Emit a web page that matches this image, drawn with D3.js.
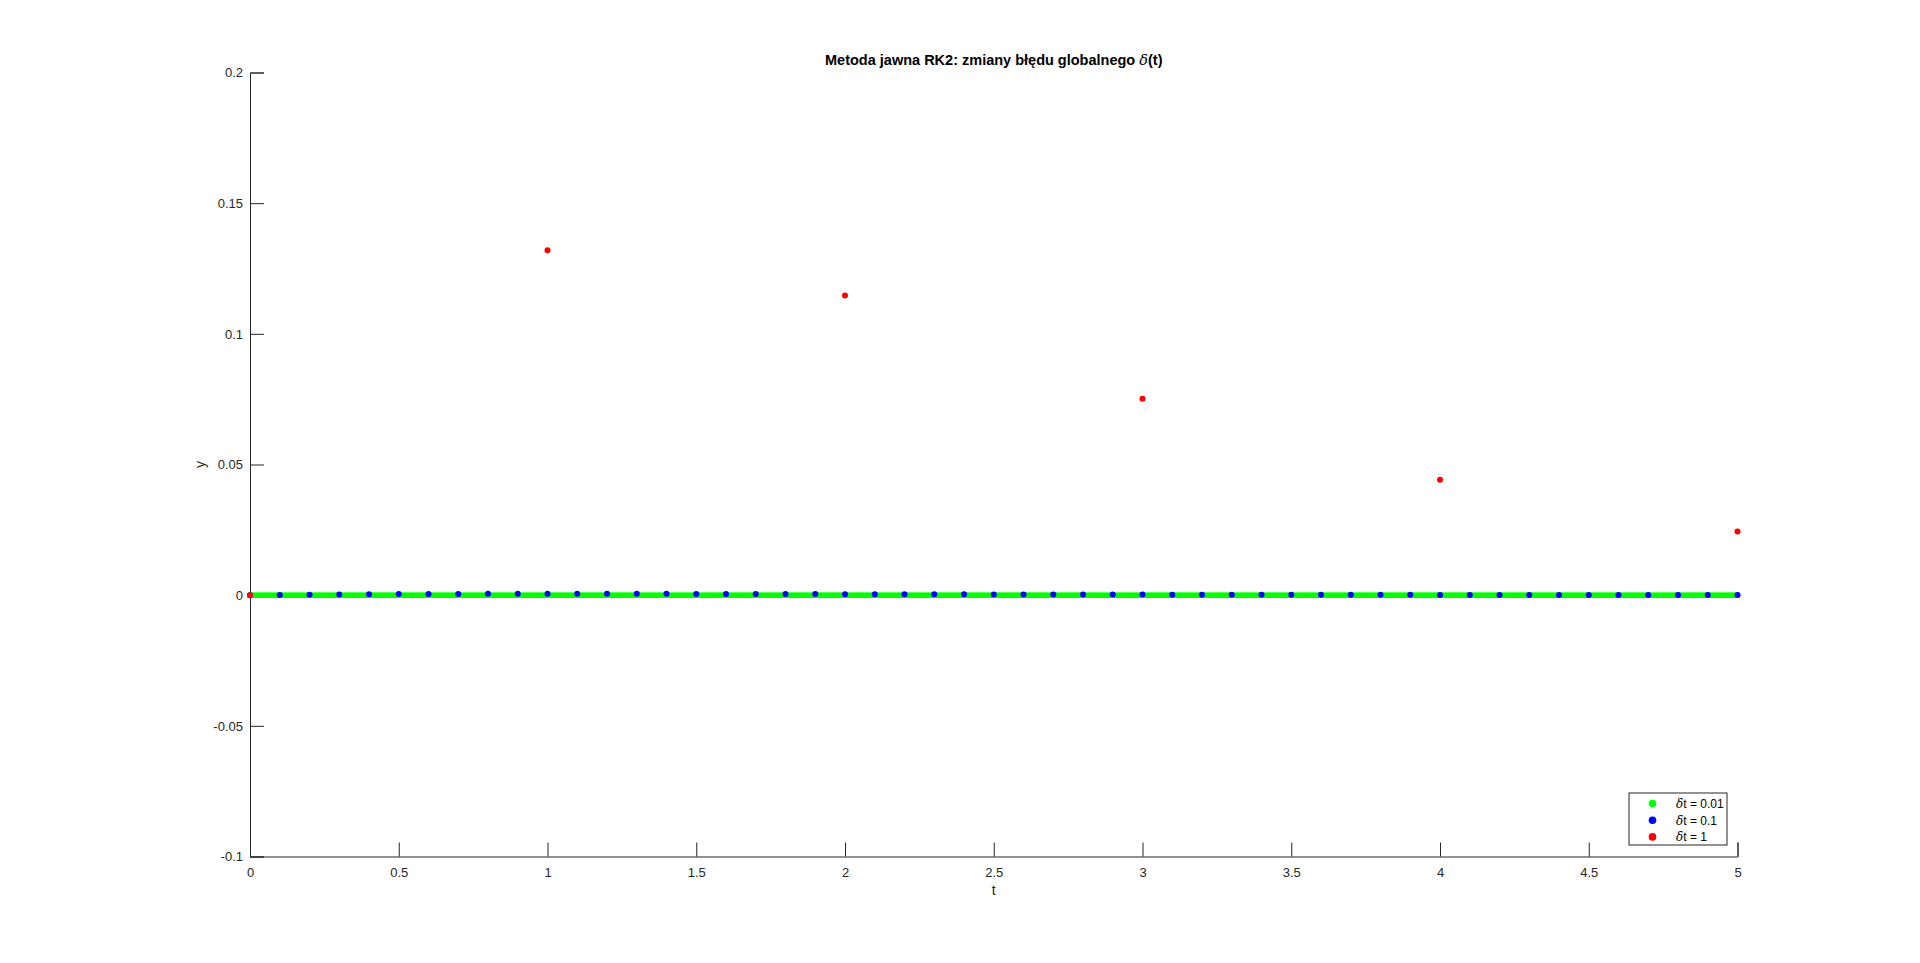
<!DOCTYPE html>
<html lang="pl">
<head>
	<title>Metoda jawna RK2</title>
	<script src="https://d3js.org/d3.v7.min.js" charset="utf-8"></script>
<style>
    body {
        margin: 0;
        background: #fff;
        font-family: "Liberation Sans", Arial, sans-serif;
    }
    #chart svg {
        display: block;
    }
    .axis text {
        font-size: 13px;
        fill: #262626;
        font-family: "Liberation Sans", Arial, sans-serif;
    }
    .axis path, .axis line {
        stroke: #262626;
    }
</style>
</head>
<body>
    <div id="chart"></div>
    <script>

    //_____________________________DATA_____________________________

    // krok dt = 1
    var tRed = [0, 1, 2, 3, 4, 5];
    var errRed = [0, 0.1320, 0.1147, 0.0752, 0.0442, 0.0244];

    // krok dt = 0.1
    var tBlue = d3.range(51).map(function(i) { return i / 10; });
    var errBlue = [0, 0.00010, 0.00019, 0.00027, 0.00034, 0.00040, 0.00045, 0.00049, 0.00052, 0.00054,
                   0.00055, 0.00055, 0.00054, 0.00053, 0.00051, 0.00049, 0.00047, 0.00045, 0.00043, 0.00041,
                   0.00039, 0.00037, 0.00035, 0.00033, 0.00031, 0.00029, 0.00027, 0.00026, 0.00024, 0.00023,
                   0.00021, 0.00020, 0.00019, 0.00017, 0.00016, 0.00015, 0.00014, 0.00013, 0.00013, 0.00012,
                   0.00011, 0.00010, 0.00010, 0.00009, 0.00009, 0.00008, 0.00008, 0.00007, 0.00007, 0.00006,
                   0.00006];

    // krok dt = 0.01 (blad praktycznie zerowy na wykresie)
    var tGreen = d3.range(501).map(function(i) { return i / 100; });
    var errGreen = tGreen.map(function() { return 0; });

    var xTicks = [0, 0.5, 1, 1.5, 2, 2.5, 3, 3.5, 4, 4.5, 5];
    var yTicks = [-0.1, -0.05, 0, 0.05, 0.1, 0.15, 0.2];
    var legendLabels = ["t = 0.01", "t = 0.1", "t = 1"];
    var legendColors = ["#00ff00", "#0000ff", "#ff0000"];

    //_____________________________SVG_____________________________

    var width = 1920;
    var height = 963;
    var pLeft = 250, pRight = 1737.5, pTop = 72.5, pBottom = 856.5;

    var svg = d3.select("#chart")
        .append("svg")
        .attr("width", width)
        .attr("height", height);

    var x = d3.scaleLinear().domain([0, 5]).range([pLeft, pRight]);
    var y = d3.scaleLinear().domain([-0.1, 0.2]).range([pBottom, pTop]);

    // plain hyphen for negatives, like matlab
    function fmt(d) { return String(+d.toFixed(2)); }

    // x axis, ticks inside
    var xAxis = svg.append("g")
        .attr("class", "axis")
        .attr("transform", "translate(0," + pBottom + ")")
        .call(d3.axisBottom(x).tickValues(xTicks).tickSizeInner(-14).tickSizeOuter(-14).tickPadding(8)
            .tickFormat(fmt));

    var yAxis = svg.append("g")
        .attr("class", "axis")
        .attr("transform", "translate(" + pLeft + ",0)")
        .call(d3.axisLeft(y).tickValues(yTicks).tickSizeInner(-14).tickSizeOuter(-14).tickPadding(7)
            .tickFormat(fmt));

    xAxis.selectAll("text").attr("dy", "0.95em");

    // axis labels
    svg.append("text")
        .attr("x", (pLeft + pRight) / 2)
        .attr("y", 895)
        .attr("text-anchor", "middle")
        .style("font-size", "14px")
        .style("fill", "#262626")
        .text("t");

    svg.append("text")
        .attr("transform", "translate(205," + ((pTop + pBottom) / 2) + ") rotate(-90)")
        .attr("text-anchor", "middle")
        .style("font-size", "14px")
        .style("fill", "#262626")
        .text("y");

    // title
    var title = svg.append("text")
        .attr("x", (pLeft + pRight) / 2)
        .attr("y", 65)
        .attr("text-anchor", "middle")
        .style("font-size", "14.5px")
        .style("font-weight", "bold")
        .style("fill", "#000");
    title.append("tspan").text("Metoda jawna RK2: zmiany błędu globalnego ");
    title.append("tspan").style("font-style", "italic").style("font-weight", "normal")
        .style("font-family", "'DejaVu Serif', serif").text("δ");
    title.append("tspan").text("(t)");

    //_____________________________POINTS_____________________________

    var pts = svg.append("g");

    pts.selectAll(".g")
        .data(tGreen)
        .enter().append("circle")
        .attr("cx", function(d) { return x(d); })
        .attr("cy", function(d, i) { return y(errGreen[i]); })
        .attr("r", 2.8)
        .attr("fill", "#00ff00");

    pts.selectAll(".b")
        .data(tBlue)
        .enter().append("circle")
        .attr("cx", function(d) { return x(d); })
        .attr("cy", function(d, i) { return y(errBlue[i]); })
        .attr("r", 3)
        .attr("fill", "#0000ff");

    pts.selectAll(".r")
        .data(tRed)
        .enter().append("circle")
        .attr("cx", function(d) { return x(d); })
        .attr("cy", function(d, i) { return y(errRed[i]); })
        .attr("r", 3)
        .attr("fill", "#ff0000");

    //_____________________________LEGEND_____________________________

    var lg = svg.append("g").attr("transform", "translate(1629,793)");
    lg.append("rect")
        .attr("width", 98)
        .attr("height", 52)
        .attr("fill", "#fff")
        .attr("stroke", "#262626")
        .attr("stroke-width", 1);

    var rows = lg.selectAll(".row")
        .data(legendLabels)
        .enter().append("g")
        .attr("transform", function(d, i) { return "translate(0," + (10.5 + i * 16.7) + ")"; });

    rows.append("circle")
        .attr("cx", 23.5)
        .attr("cy", 0)
        .attr("r", 3.8)
        .attr("fill", function(d, i) { return legendColors[i]; });

    var lt = rows.append("text")
        .attr("x", 47)
        .attr("y", 4.3)
        .style("font-size", "12px")
        .style("fill", "#000");
    lt.append("tspan").style("font-style", "italic").style("font-family", "'DejaVu Serif', serif").text("δ");
    lt.append("tspan").text(function(d) { return d; });

    </script>
</body>
</html>
